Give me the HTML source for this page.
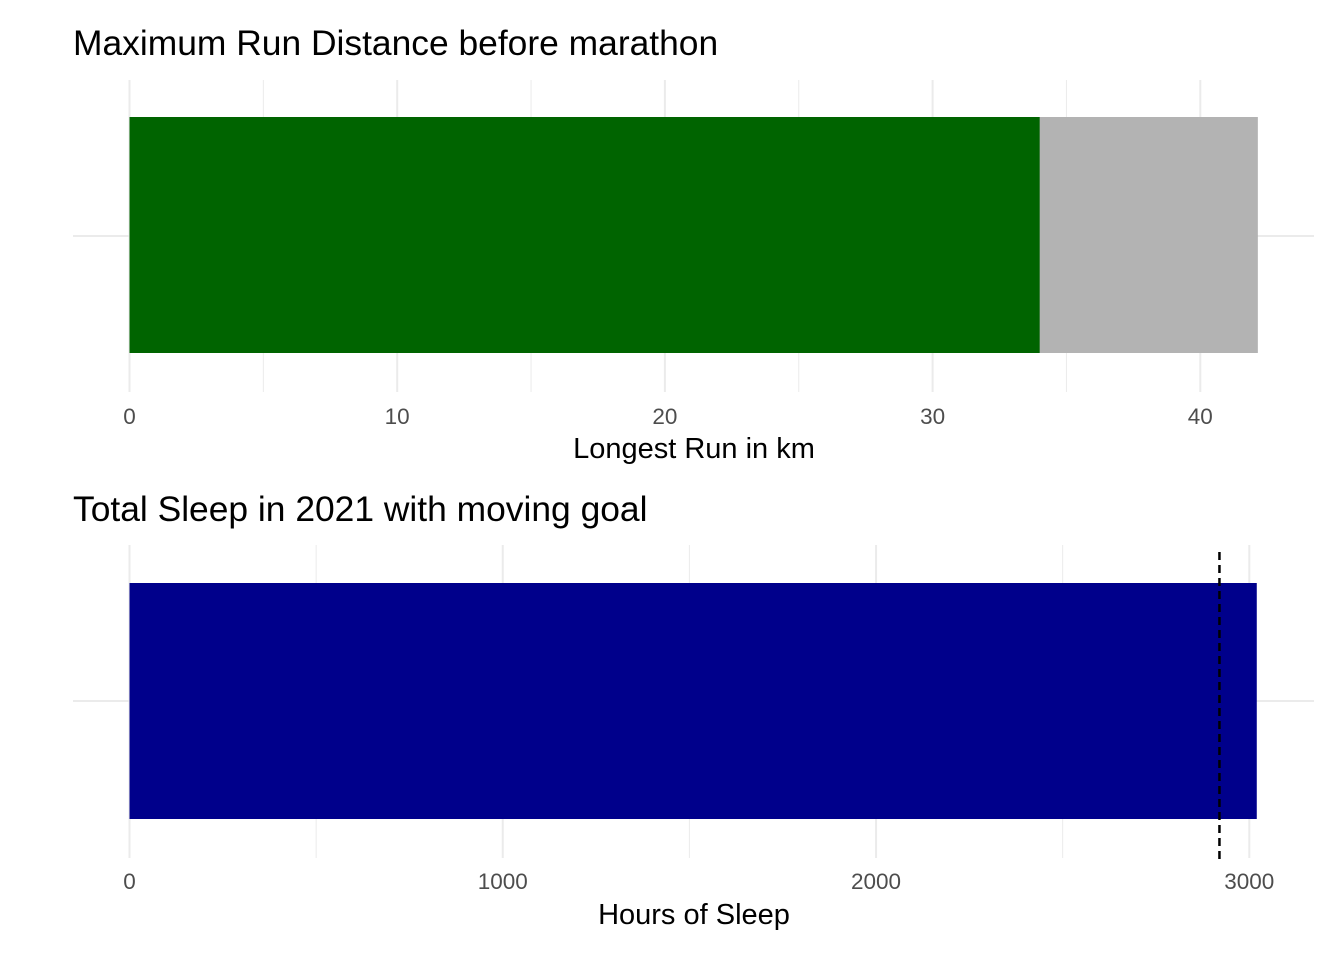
<!DOCTYPE html>
<html><head><meta charset="utf-8"><style>
body{margin:0;background:#fff;font-family:"Liberation Sans",sans-serif}
svg text{font-family:"Liberation Sans",sans-serif}
</style></head><body>
<svg id="chart" width="1344" height="960" xmlns="http://www.w3.org/2000/svg"></svg>
<script>
const runTicks=[0,10,20,30,40];
const runMinor=[5,15,25,35];
const runLongest=[34.0];
const marathonDist=[42.15];
const sleepTicks=[0,1000,2000,3000];
const sleepMinor=[500,1500,2500];
const sleepTotal=[3020];
const sleepGoal=[2920];

const svg=document.getElementById('chart');
const NS='http://www.w3.org/2000/svg';
function el(tag,attrs,parent){const e=document.createElementNS(NS,tag);for(const k in attrs)e.setAttribute(k,attrs[k]);(parent||svg).appendChild(e);return e;}

function panel(o){
  const g=el('g',{});
  
  
  const x=v=>o.x0+v*o.k;
  const hg=el('line',{x1:73,x2:1314,y1:o.gy,y2:o.gy,stroke:'#ebebeb','stroke-width':2},g);
  
  
  o.minor.forEach(v=>{
    const l=el('line',{x1:x(v),x2:x(v),y1:o.gt,y2:o.gb,stroke:'#ebebeb','stroke-width':1},g);
    
    
  });
  o.ticks.forEach(v=>{
    const l=el('line',{x1:x(v),x2:x(v),y1:o.gt,y2:o.gb,stroke:'#ebebeb','stroke-width':2},g);
    
    
    const t=el('text',{x:x(v),y:o.tickY,'text-anchor':'middle','font-size':22.5,fill:'#4d4d4d'},g);
    t.textContent=v;
    
    
  });
  o.bars.forEach(b=>{
    const r=el('rect',{x:x(0),y:o.by,width:x(b.v)-x(0),height:o.bh,fill:b.c},g);
    
    
  });
  if(o.vline!==undefined){
    const l=el('line',{x1:x(o.vline),x2:x(o.vline),y1:552,y2:859,stroke:'#000','stroke-width':2.5,'stroke-dasharray':'8,5'},g);
    
    
  }
  const t=el('text',{x:73,y:o.titleY,'font-size':35.4,fill:'#000'},g);
  t.textContent=o.title;
  
  
  const a=el('text',{x:694,y:o.axisY,'text-anchor':'middle','font-size':29,fill:'#000'},g);
  a.textContent=o.axis;
  
  
}
panel({name:'run-panel',x0:129.5,k:26.77,gy:236,gt:80,gb:392,ticks:runTicks,minor:runMinor,tickY:424,
  bars:[{v:marathonDist[0],c:'#b3b3b3',name:'marathon-bar'},{v:runLongest[0],c:'#006400',name:'longest-run-bar'}],
  by:117,bh:236,titleY:55,title:'Maximum Run Distance before marathon',axisY:458,axis:'Longest Run in km'});
panel({name:'sleep-panel',x0:129.5,k:0.37327,gy:701,gt:545,gb:858,ticks:sleepTicks,minor:sleepMinor,tickY:889,
  bars:[{v:sleepTotal[0],c:'#00008b',name:'sleep-bar'}],vline:sleepGoal[0],
  by:583,bh:236,titleY:521,title:'Total Sleep in 2021 with moving goal',axisY:924,axis:'Hours of Sleep'});
</script>
</body></html>
